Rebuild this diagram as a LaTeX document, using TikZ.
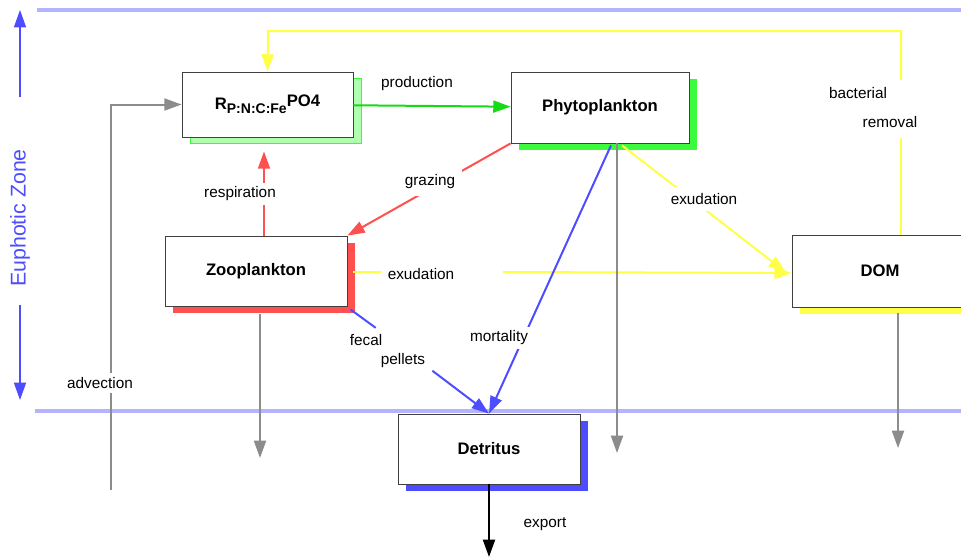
\documentclass[tikz,border=0pt]{standalone}
\usepackage{fontspec}
\setmainfont{Liberation Sans}
\usetikzlibrary{arrows.meta, shadows, calc, positioning}

\definecolor{zoneblue}{RGB}{179,179,255}
\definecolor{flowblue}{RGB}{77,77,255}
\definecolor{flowgreen}{RGB}{20,220,20}
\definecolor{shadegreen}{RGB}{60,250,60}
\definecolor{palegreen}{RGB}{175,255,175}
\definecolor{flowred}{RGB}{255,80,80}
\definecolor{flowyellow}{RGB}{255,255,70}
\definecolor{flowgray}{RGB}{140,140,140}

\begin{document}
\begin{tikzpicture}[
    x=0.75pt, y=-0.75pt,
    pool/.style={rectangle, draw=black!75, fill=white, line width=0.6pt, font=\bfseries\fontsize{12.5}{14}\selectfont},
    shade/.style={drop shadow={shadow xshift=6pt, shadow yshift=-5.5pt, fill=#1, opacity=1}},
    flow/.style={-{Triangle[length=13pt,width=9pt]}, line width=1.5pt},
    lbl/.style={fill=white, inner sep=3pt, font=\fontsize{11.5}{13}\selectfont},
    zone/.style={draw=zoneblue, line width=3pt}
]
\useasboundingbox (0,0) rectangle (961,557);

% zone boundaries
\draw[zone] (37,10) -- (961,10);
\draw[zone] (35,411) -- (961,411);
\coordinate (eztop) at (20,10);
\coordinate (ezup) at (20,97);
\coordinate (ezdown) at (20,305);
\coordinate (ezbot) at (20,400);
\draw[flow, draw=flowblue, line width=1.2pt] (ezup) -- (eztop);
\draw[flow, draw=flowblue, line width=1.2pt] (ezdown) -- (ezbot);
\node[rotate=90, text=flowblue, font=\fontsize{16}{18}\selectfont] (zonelbl) at (20,218) {Euphotic Zone};

% pools
\node[pool, minimum width=128.25pt, minimum height=48.75pt,
      drop shadow={shadow xshift=6pt, shadow yshift=-5pt, fill=palegreen, draw=shadegreen, opacity=1}]
      (nut) at (267.5,104.5) {R\raisebox{-3pt}{\fontsize{10.5}{12}\selectfont P:N:C:Fe}\raisebox{2pt}{PO4}};
\node[pool, shade=shadegreen, minimum width=133.5pt, minimum height=53.25pt] (phyto) at (600,107.5) {Phytoplankton};
\node[pool, shade=flowred, minimum width=136.5pt, minimum height=52.5pt] (zoo) at (256,271) {Zooplankton};
\node[pool, shade=flowyellow, minimum width=132pt, minimum height=54pt] (dom) at (880,271) {DOM};
\node[pool, shade=flowblue, minimum width=136.5pt, minimum height=52.5pt] (det) at (489,449) {Detritus};

% free ends
\coordinate (zoosink) at (260,458);
\coordinate (physink) at (617,453);
\coordinate (domsink) at (898,448);
\coordinate (adv) at (111,490);
\coordinate (exp) at (489,557);
\coordinate (bact) at (268,31);
\coordinate (bacthi) at (901,80);
\coordinate (bactlo) at (901,138);
\coordinate (exz1) at (381,272);
\coordinate (exz2) at (503,272);

% flows
\draw[flow, draw=flowgreen] (nut) -- (phyto);
\draw[flow, draw=flowred] (phyto.south west) -- (zoo.north east);
\draw[flow, draw=flowred] ($(zoo.north)+(8,0)$) -- ($(nut.south)+(-3.5,14)$);
\draw[draw=flowyellow, line width=1.5pt] ($(zoo.east)+(6,1)$) -- (exz1);
\draw[flow, draw=flowyellow] (exz2) -- ($(dom.west)+(0,2)$);
\draw[flow, draw=flowyellow] ($(phyto.south)+(22,2)$) -- ($(dom.west)+(-6,1)$);
\draw[flow, draw=flowblue] ($(phyto.south)+(11,2)$) -- (det.north);
\path (zoo.south east) -- coordinate[pos=0.2] (fp1) coordinate[pos=0.6] (fp2) (det.north);
\draw[draw=flowblue, line width=1.5pt] ($(zoo.south east)+(3,3)$) -- (fp1);
\draw[flow, draw=flowblue] (fp2) -- (det.north);
\draw[flow, draw=flowgray] ($(zoo.south)+(4,8)$) -- (zoosink);
\draw[flow, draw=flowgray] ($(phyto.south)+(17,0)$) -- (physink);
\draw[flow, draw=flowgray] ($(dom.south)+(18,6)$) -- (domsink);
\draw[flow, draw=flowgray] (adv) |- (nut.west);
\draw[flow, draw=black] (det.south) -- (exp);
\draw[draw=flowyellow, line width=1.5pt] (dom.north -| bactlo) -- (bactlo);
\draw[flow, draw=flowyellow] (bacthi) |- (bact) -- (nut.north);

% labels
\node[lbl] (lprod) at (417,84) {production};
\node[lbl, inner sep=5pt] (lgraz) at (430,182) {grazing};
\node[lbl] (lresp) at (240,194) {respiration};
\node[lbl, fill=none] (lexz) at (421,274) {exudation};
\node[lbl, inner sep=5pt] (lexp) at (704,199) {exudation};
\node[lbl] (lmort) at (499,338) {mortality};
\node[lbl, fill=none] (lfecal) at (366,340) {fecal};
\node[lbl, fill=none] (lpell) at (403,361) {pellets};
\node[lbl] (ladv) at (100,383) {advection};
\node[lbl, fill=none] (lbact) at (858,93) {bacterial};
\node[lbl, fill=none] (lrem) at (890,122) {removal};
\node[lbl, fill=none] (lexport) at (545,524) {export};
\end{tikzpicture}
\end{document}
